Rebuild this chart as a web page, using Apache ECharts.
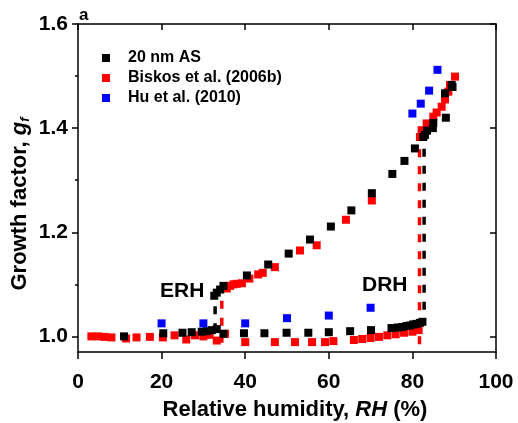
<!DOCTYPE html>
<html>
<head>
<meta charset="utf-8">
<script src="https://cdn.jsdelivr.net/npm/echarts@6/dist/echarts.min.js"></script>
<style>
  html, body { margin: 0; padding: 0; background: #fff; }
  #chart { width: 518px; height: 423px; }
</style>
</head>
<body>
<div id="chart"></div>
<script>
// Hygroscopic growth factor of ammonium sulfate particles vs relative humidity

// 20 nm AS (this work)
const asRH = [11.0, 20.4, 25.0, 27.2, 29.6, 30.8, 32.0, 33.2, 34.8, 39.7, 44.6, 49.9, 55.1, 60.0, 65.1, 70.1,
  75.0, 76.5, 77.5, 78.6, 79.5, 80.2, 81.0, 81.8, 82.4,
  32.6, 33.2, 34.0, 34.8, 40.4, 45.5, 50.4, 55.5, 60.5, 65.4, 70.3, 75.2, 78.1, 80.6,
  82.6, 83.0, 83.5, 84.9, 85.0, 88.0, 87.8, 89.4, 89.6];
const asGF = [1.000, 1.006, 1.007, 1.008, 1.009, 1.010, 1.012, 1.014, 1.005, 1.006, 1.006, 1.007, 1.007, 1.008, 1.010, 1.012,
  1.016, 1.017, 1.018, 1.020, 1.021, 1.023, 1.024, 1.026, 1.028,
  1.078, 1.084, 1.090, 1.097, 1.117, 1.138, 1.159, 1.186, 1.211, 1.242, 1.275, 1.312, 1.337, 1.361,
  1.383, 1.387, 1.395, 1.400, 1.410, 1.420, 1.467, 1.483, 1.479];

// Biskos et al. (2006b)
const biskosRH = [3.2, 4.8, 6.4, 8.0, 11.5, 14.0, 17.2, 20.3, 23.1, 25.9, 28.0, 30.0, 31.5, 33.2, 35.2,
  40.0, 47.1, 51.9, 56.0, 59.1, 61.1, 66.0, 68.0, 70.0, 72.0, 74.0, 76.0, 78.0, 80.0, 81.5,
  35.6, 36.4, 37.2, 38.0, 39.2, 41.0, 43.1, 44.2, 47.1, 53.1, 57.1, 64.1, 70.3,
  81.8, 82.2, 83.4, 85.0, 85.8, 87.0, 87.8, 88.6, 89.0, 90.2];
const biskosGF = [1.000, 1.000, 0.999, 0.998, 0.996, 0.998, 0.999, 0.998, 1.002, 0.994, 1.002, 1.000, 1.003, 0.992, 1.005,
  0.989, 0.989, 0.989, 0.989, 0.989, 0.991, 0.993, 0.995, 0.997, 0.999, 1.002, 1.004, 1.007, 1.009, 1.012,
  1.092, 1.097, 1.100, 1.101, 1.102, 1.111, 1.119, 1.122, 1.133, 1.165, 1.175, 1.224, 1.261,
  1.383, 1.396, 1.409, 1.422, 1.430, 1.441, 1.455, 1.470, 1.483, 1.499];

// Hu et al. (2010)
const huRH = [20, 30, 40, 50, 60, 70, 80, 82, 84, 86];
const huGF = [1.025, 1.025, 1.025, 1.035, 1.040, 1.055, 1.428, 1.447, 1.472, 1.512];

// Phase transition (ERH / DRH) dashed verticals: [RH, gf start, gf end]
const asERH = [32.8, 1.010, 1.078];
const asDRH = [82.8, 1.026, 1.405];
const biskosERH = [34.4, 0.988, 1.092];
const biskosDRH = [81.7, 0.985, 1.390];

// Axis ticks
const xTicks = [0, 20, 40, 60, 80, 100];
const yTicks = [1.0, 1.2, 1.4, 1.6];
const yMinorTicks = [1.1, 1.3, 1.5];

const pairs = (xs, ys) => xs.map((x, i) => [x, ys[i]]);
const vline = (v) => [[v[0], v[1]], [v[0], v[2]]];

const FONT = 'Liberation Sans, Arial, sans-serif';
const chart = echarts.init(document.getElementById('chart'), null, { renderer: 'canvas' });

const baseY = {
  type: 'value', min: 0.97, max: 1.6, gridIndex: 0,
  splitLine: { show: false }
};

const option = {
  backgroundColor: '#fff',
  animation: false,
  grid: { left: 78, right: 22, top: 24, bottom: 71 },
  legend: {
    orient: 'vertical', left: 97, top: 43,
    itemWidth: 8, itemHeight: 8, itemGap: 0, icon: 'rect',
    data: ['20 nm AS', 'Biskos et al. (2006b)', 'Hu et al. (2010)'],
    textStyle: { fontFamily: FONT, fontWeight: 'bold', fontSize: 16, lineHeight: 20, color: '#000', padding: [0, 0, 0, 13] }
  },
  xAxis: [
    {
      type: 'value', min: 0, max: 100, interval: 20, position: 'bottom',
      axisLine: { lineStyle: { color: '#000', width: 1.5 } },
      axisTick: { inside: false, length: 7, lineStyle: { width: 1.5, color: '#000' }, customValues: xTicks },
      axisLabel: { margin: 20, fontFamily: FONT, fontWeight: 'bold', fontSize: 21, color: '#000', customValues: xTicks },
      splitLine: { show: false }
    },
    {
      type: 'value', min: 0, max: 100, interval: 20, position: 'top',
      axisLine: { lineStyle: { color: '#000', width: 1.5 } },
      axisTick: { inside: true, length: 6, lineStyle: { width: 1.5, color: '#000' } },
      axisLabel: { show: false },
      splitLine: { show: false }
    }
  ],
  yAxis: [
    Object.assign({}, baseY, {
      position: 'left',
      axisLine: { show: true, lineStyle: { color: '#000', width: 1.5 } },
      axisTick: { inside: false, length: 6, lineStyle: { width: 1.5, color: '#000' }, customValues: yTicks },
      axisLabel: { margin: 10, fontFamily: FONT, fontWeight: 'bold', fontSize: 21, color: '#000',
        customValues: yTicks, formatter: v => v.toFixed(1) }
    }),
    Object.assign({}, baseY, {
      position: 'left',
      axisLine: { show: false },
      axisTick: { inside: false, length: 3, lineStyle: { width: 1.5, color: '#000' }, customValues: yMinorTicks },
      axisLabel: { show: false }
    }),
    Object.assign({}, baseY, {
      position: 'right',
      axisLine: { show: true, lineStyle: { color: '#000', width: 1.5 } },
      axisTick: { inside: true, length: 6, lineStyle: { width: 1.5, color: '#000' }, customValues: yTicks },
      axisLabel: { show: false }
    })
  ],
  series: [
    { name: 'Biskos DRH', type: 'line', data: vline(biskosDRH), symbol: 'none', silent: true,
      lineStyle: { color: '#ff0000', width: 3.5, type: [8, 9] }, z: 1 },
    { name: 'Biskos ERH', type: 'line', data: vline(biskosERH), symbol: 'none', silent: true,
      lineStyle: { color: '#ff0000', width: 3.5, type: [8, 9] }, z: 1 },
    { name: 'AS DRH', type: 'line', data: vline(asDRH), symbol: 'none', silent: true,
      lineStyle: { color: '#000', width: 3.5, type: [8, 9], dashOffset: 4 }, z: 2 },
    { name: 'AS ERH', type: 'line', data: vline(asERH), symbol: 'none', silent: true,
      lineStyle: { color: '#000', width: 3.5, type: [8, 9] }, z: 2 },
    { name: 'Biskos et al. (2006b)', type: 'scatter', symbol: 'rect', symbolSize: 8,
      itemStyle: { color: '#ff0000', opacity: 1 }, data: pairs(biskosRH, biskosGF), z: 3 },
    { name: '20 nm AS', type: 'scatter', symbol: 'rect', symbolSize: 8,
      itemStyle: { color: '#000', opacity: 1 }, data: pairs(asRH, asGF), z: 4 },
    { name: 'Hu et al. (2010)', type: 'scatter', symbol: 'rect', symbolSize: 8,
      itemStyle: { color: '#0000ff', opacity: 1 }, data: pairs(huRH, huGF), z: 5 }
  ],
  graphic: [
    { type: 'text', left: 79, top: 7, style: { text: 'a', fontFamily: FONT, fontWeight: 'bold', fontSize: 17, fill: '#000' } },
    { type: 'text', left: 160, top: 281, style: { text: 'ERH', fontFamily: FONT, fontWeight: 'bold', fontSize: 21, fill: '#000' } },
    { type: 'text', left: 362, top: 275, style: { text: 'DRH', fontFamily: FONT, fontWeight: 'bold', fontSize: 21, fill: '#000' } },
    {
      type: 'text', x: 295, y: 410,
      style: {
        text: 'Relative humidity, {i|RH} (%)', align: 'center', verticalAlign: 'middle',
        fontFamily: FONT, fontWeight: 'bold', fontSize: 22, fill: '#000',
        rich: { i: { fontFamily: FONT, fontWeight: 'bold', fontStyle: 'italic', fontSize: 22, fill: '#000' } }
      }
    },
    {
      type: 'text', x: 20, y: 204, rotation: Math.PI / 2,
      style: {
        text: 'Growth factor, {i|g}{s|f}', align: 'center', verticalAlign: 'middle',
        fontFamily: FONT, fontWeight: 'bold', fontSize: 22, fill: '#000',
        rich: {
          i: { fontFamily: FONT, fontWeight: 'bold', fontStyle: 'italic', fontSize: 22, fill: '#000' },
          s: { fontFamily: FONT, fontWeight: 'bold', fontStyle: 'italic', fontSize: 13, fill: '#000', padding: [11, 0, 0, 0] }
        }
      }
    }
  ]
};

chart.setOption(option);
</script>
</body>
</html>
